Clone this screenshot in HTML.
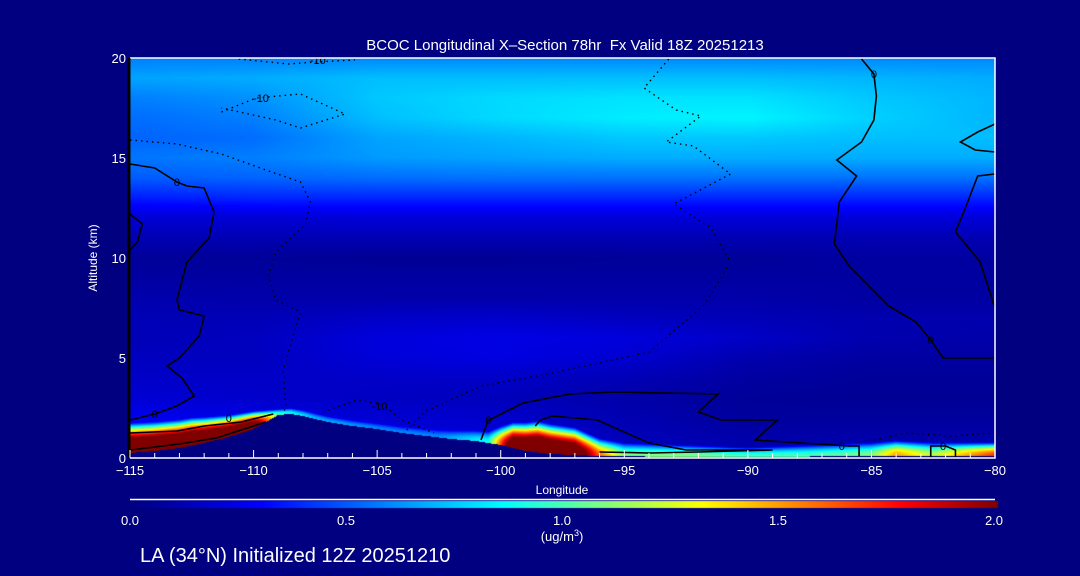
<!DOCTYPE html>
<html><head><meta charset="utf-8">
<style>
html,body{margin:0;padding:0;background:#000080;width:1080px;height:576px;overflow:hidden}
#wrap{position:relative;width:1080px;height:576px;font-family:"Liberation Sans",sans-serif;color:#fff}
canvas{position:absolute;left:0;top:0}
svg{position:absolute;left:0;top:0}
</style></head><body>
<div id="wrap">
<canvas id="field" width="1080" height="576"></canvas>
<svg id="ov" width="1080" height="576"></svg>
</div>
<script>
// ---- data ----
const gridLons=[-115,-110,-105,-100,-95,-90,-85,-80];
const gridAlts=[20,19,18,17,16,15,14,13,12,11,10,9,8,7,6,5,4,3,2,1,0];
const gridVals=[
[.58,.58,.60,.60,.60,.60,.60,.60],
[.66,.68,.72,.72,.72,.72,.70,.68],
[.58,.62,.74,.78,.80,.80,.74,.70],
[.54,.58,.72,.78,.82,.84,.76,.70],
[.52,.54,.66,.70,.74,.74,.72,.72],
[.56,.58,.64,.66,.68,.68,.68,.68],
[.50,.52,.54,.55,.55,.55,.55,.55],
[.36,.38,.38,.38,.38,.38,.38,.38],
[.20,.20,.21,.21,.21,.21,.21,.21],
[.12,.12,.12,.12,.12,.12,.12,.12],
[.06,.06,.05,.05,.06,.06,.08,.08],
[.08,.08,.08,.08,.08,.08,.08,.08],
[.11,.10,.10,.10,.10,.10,.08,.08],
[.13,.13,.17,.18,.15,.13,.11,.11],
[.13,.15,.22,.24,.22,.17,.11,.10],
[.15,.15,.21,.23,.19,.11,.08,.08],
[.17,.17,.17,.17,.13,.08,.06,.06],
[.20,.18,.16,.14,.10,.06,.05,.05],
[.26,.24,.20,.18,.12,.07,.07,.07],
[.30,.28,.22,.20,.14,.10,.10,.10],
[.30,.28,.22,.20,.14,.10,.10,.10]];
const terrainLons=[-115,-114,-113,-112,-111,-110,-109,-108.5,-108,-107,-106,-105,-104,-103,-102,-101,-100,-99,-98,-97,-96,-95,-90,-85,-80];
const terrainAlts=[0.25,0.35,0.5,0.75,1.05,1.45,2.15,2.2,2.1,1.8,1.6,1.45,1.25,1.1,0.95,0.85,0.65,0.35,0.2,0.15,0.1,0.08,0.05,0.1,0.1];
const sfcLons=[-115,-112.5,-110,-109,-107.5,-105,-102.5,-100.5,-99.5,-98.5,-97,-96,-95,-92.5,-90,-87.5,-85,-84,-82.5,-80];
const sfcConc=[2.6,2.6,2.4,1.0,0.7,0.6,0.6,0.9,2.4,2.6,2.4,1.6,1.1,1.1,1.0,1.0,1.1,1.5,1.2,1.7];
const sfcDepth=[1.5,1.4,0.9,0.3,0.3,0.3,0.4,0.6,1.3,1.6,1.4,0.9,0.7,0.6,0.5,0.6,0.7,0.8,0.7,0.7];
const zeroContours=[
[[-115,14.7],[-114,14.5],[-113.1,13.8],[-112.7,13.6],[-112,13.5],[-111.6,12.3],[-111.8,11],[-112.7,9.8],[-113.1,7.9],[-113,7.4],[-112,7.1],[-112.2,6.1],[-113,5.0],[-113.5,4.6],[-112.9,4.0],[-112.4,3.1],[-113.1,2.6],[-114,2.2],[-115,1.9]],
[[-115,12.2],[-114.5,11.7],[-114.7,10.8],[-115,10.4]],
[[-115,1.25],[-113.1,1.35],[-112,1.6],[-110.5,1.8],[-109.2,2.2]],
[[-115,0.4],[-113,0.7],[-111.5,1.0],[-110.5,1.4],[-109.5,1.8]],
[[-100.8,0.9],[-100.5,1.9],[-100.3,2.0],[-99.1,2.75],[-97.2,3.2],[-95.4,3.3],[-91.2,3.2],[-92,2.3],[-91.1,1.9],[-88.8,1.9],[-89.7,0.9],[-85.9,0.6],[-85.5,0.6],[-85.5,0.1]],
[[-98.6,1.6],[-98.4,1.9],[-97.9,2.1],[-96.1,1.9],[-94,0.75],[-92.5,0.4],[-89,0.4],[-92,0.3],[-94,0.25],[-96,0.3]],
[[-85.4,19.95],[-84.9,19.2],[-84.8,18.1],[-84.9,16.9],[-85.4,15.8],[-86.4,14.9],[-85.6,14.1],[-86.3,12.8],[-86.5,10.7],[-85.9,9.6],[-84.3,7.6],[-83.2,6.8],[-82.6,5.9],[-82.1,5.0],[-80,5.0]],
[[-80,16.7],[-80.7,16.3],[-81.4,15.8],[-80.8,15.4],[-80,15.3]],
[[-80,14.2],[-80.7,14.1],[-81.2,12.5],[-81.6,11.3],[-80.6,9.8],[-80,7.5]],
[[-82.6,0.05],[-82.6,0.6],[-82,0.6],[-81.6,0.4],[-81.6,0.05]]];
const negContours=[
[[-110.6,19.95],[-108.6,19.7],[-107.5,19.8],[-105.9,19.9]],
[[-111.3,17.3],[-109.9,18],[-108.1,18.2],[-106.3,17.2],[-108.1,16.5],[-109.1,16.9],[-111.3,17.5]],
[[-115,15.9],[-113.1,15.7],[-111.3,15.2],[-109.5,14.4],[-108.1,13.8],[-107.7,12.8],[-107.9,11.7],[-109.1,10.3],[-109.4,9.1],[-109.1,7.9],[-108.1,7.3],[-108.4,6.1],[-108.8,4.4],[-108.7,2.6],[-108.8,2.2]],
[[-93.2,19.95],[-94.2,18.5],[-92.9,17.4],[-91.9,17.1],[-93.3,15.8],[-92.2,15.6],[-90.7,14.2],[-93,12.7],[-91.5,11.5],[-90.7,9.8],[-91.8,7.6],[-94,5.3],[-98.1,4.2],[-100.8,3.6],[-103.1,2.3],[-103.8,1.4]],
[[-107.2,2.3],[-105.8,2.9],[-104.8,2.7],[-104,1.9],[-102.7,1.25]],
[[-84.9,0.9],[-83.6,1.25],[-81.8,1.1],[-80,1.25]]];
const contourLabels=[[-113.1,13.8,"0"],[-114.0,2.2,"0"],[-111,2.0,"0"],[-100.5,1.9,"0"],[-84.9,19.2,"0"],[-82.6,5.9,"0"],[-86.2,0.6,"0"],[-82.1,0.6,"0"],[-109.7,18.0,"-10"],[-107.4,19.9,"-10"],[-104.9,2.6,"-10"]];
const xTicks=[-115,-110,-105,-100,-95,-90,-85,-80];
const yTicks=[0,5,10,15,20];
const cbTicks=[0.0,0.5,1.0,1.5,2.0];

// ---- axes ----
const X0=130,X1=995,Y0=458,Y1=58;
const sx=l=>X0+(l+115)/35*(X1-X0);
const sy=a=>Y0-a/20*(Y0-Y1);
function interp(xs,ys,x){if(x<=xs[0])return ys[0];for(let i=1;i<xs.length;i++){if(x<=xs[i]){const t=(x-xs[i-1])/(xs[i]-xs[i-1]);return ys[i-1]+t*(ys[i]-ys[i-1]);}}return ys[ys.length-1];}
const cmapT=[0,0.15,0.43,0.66,0.89,1];
const cmapC=[[0,0,128],[0,0,255],[0,255,255],[255,255,0],[255,0,0],[128,0,0]];
function jet(v){const t=Math.max(0,Math.min(1,v/2));
 for(let i=1;i<cmapT.length;i++){if(t<=cmapT[i]){const f=(t-cmapT[i-1])/(cmapT[i]-cmapT[i-1]);const a=cmapC[i-1],b=cmapC[i];
  return [a[0]+(b[0]-a[0])*f|0,a[1]+(b[1]-a[1])*f|0,a[2]+(b[2]-a[2])*f|0];}}
 return cmapC[5];}
function gridAt(lon,alt){
 let fi=(lon+115)/5;fi=Math.max(0,Math.min(6.9999,fi));const i=Math.floor(fi),tx=fi-i;
 let fj=(20-alt);fj=Math.max(0,Math.min(19.9999,fj));const j=Math.floor(fj),ty=fj-j;
 const a=gridVals[j][i]*(1-tx)+gridVals[j][i+1]*tx;
 const b=gridVals[j+1][i]*(1-tx)+gridVals[j+1][i+1]*tx;
 return a*(1-ty)+b*ty;}
// field
const cv=document.getElementById('field'),ctx=cv.getContext('2d');
ctx.fillStyle='#000080';ctx.fillRect(0,0,1080,576);
const img=ctx.createImageData(X1-X0,Y0-Y1);
for(let py=0;py<Y0-Y1;py++){const alt=(Y0-(Y1+py+0.5))/(Y0-Y1)*20;
 for(let px=0;px<X1-X0;px++){const lon=-115+(px+0.5)/(X1-X0)*35;
  const ter=interp(terrainLons,terrainAlts,lon);let c;
  if(alt<ter){c=[0,0,128];}else{
   let v=gridAt(lon,alt);const h=alt-ter,d=interp(sfcLons,sfcDepth,lon),s=interp(sfcLons,sfcConc,lon);
   if(h<d&&s>v){const x=h/d;v=v+(s-v)*(1-x*x);}
   c=jet(v);}
  const k=(py*(X1-X0)+px)*4;img.data[k]=c[0];img.data[k+1]=c[1];img.data[k+2]=c[2];img.data[k+3]=255;}}
ctx.putImageData(img,X0,Y1);
// colorbar
for(let x=130;x<=997;x++){const c=jet((x-130)/(997-130)*2);ctx.fillStyle=`rgb(${c[0]},${c[1]},${c[2]})`;ctx.fillRect(x,501,1,7);}

// ---- overlay ----
const NS='http://www.w3.org/2000/svg',svg=document.getElementById('ov');
function el(t,a,p){const e=document.createElementNS(NS,t);for(const k in a)e.setAttribute(k,a[k]);(p||svg).appendChild(e);return e;}
const gz=el('g',{});


zeroContours.forEach(c=>{const p=el('polyline',{points:c.map(q=>sx(q[0])+','+sy(q[1])).join(' '),fill:'none',stroke:'#000','stroke-width':1.6},gz);
 
 });
const gn=el('g',{});


negContours.forEach(c=>{const p=el('polyline',{points:c.map(q=>sx(q[0])+','+sy(q[1])).join(' '),fill:'none',stroke:'#000','stroke-width':1.4,'stroke-dasharray':'1.5 4'},gn);
 
 });
contourLabels.forEach(l=>{const t=el('text',{x:sx(l[0]),y:sy(l[1])+4,'font-size':11,'text-anchor':'middle',fill:'#000','font-family':'Liberation Sans'});t.textContent=l[2];
 
 });
// frame
const fr=el('path',{d:`M${X0},${Y1} H${X1} V${Y0} H${X0}`,fill:'none',stroke:'#fff','stroke-width':1.5});


const la=el('line',{x1:X0-1,y1:Y1,x2:X0-1,y2:Y0,stroke:'#000','stroke-width':3});


for(let l=-115;l<=-80;l++){const maj=xTicks.includes(l);const t=el('line',{x1:sx(l),x2:sx(l),y1:Y0,y2:Y0-(maj?8:5),stroke:'#fff','stroke-width':1});
 
 }
xTicks.forEach(l=>{const t=el('text',{x:sx(l),y:Y0+17,'font-size':13,'text-anchor':'middle',fill:'#fff'});t.textContent=String(l).replace('-','\u2212');
 
 });
yTicks.forEach(a=>{const t=el('text',{x:X0-4,y:sy(a)+5,'font-size':13,'text-anchor':'end',fill:'#fff'});t.textContent=a;
 
 });
cbTicks.forEach(v=>{const t=el('text',{x:130+v/2*(994-130),y:525,'font-size':13,'text-anchor':'middle',fill:'#fff'});t.textContent=v.toFixed(1);
 
 });
const cbl=el('line',{x1:130,x2:995,y1:499.5,y2:499.5,stroke:'#fff','stroke-width':1.5});


</script>
<svg width="1080" height="576" style="position:absolute;left:0;top:0">
<text x="565" y="50" font-size="15" text-anchor="middle" fill="#fff" font-family="Liberation Sans">BCOC Longitudinal X&#8211;Section 78hr&#160;&#160;Fx Valid 18Z 20251213</text>
<text x="562" y="494" font-size="12" text-anchor="middle" fill="#fff" font-family="Liberation Sans">Longitude</text>
<text transform="translate(97,258) rotate(-90)" font-size="12" text-anchor="middle" fill="#fff" font-family="Liberation Sans">Altitude (km)</text>
<text x="562" y="541" font-size="13" text-anchor="middle" fill="#fff" font-family="Liberation Sans">(ug/m<tspan dy="-5" font-size="9">3</tspan><tspan dy="5">)</tspan></text>
<text x="140" y="562" font-size="20" fill="#fff" font-family="Liberation Sans">LA (34°N) Initialized 12Z 20251210</text>
</svg>
</body></html>
